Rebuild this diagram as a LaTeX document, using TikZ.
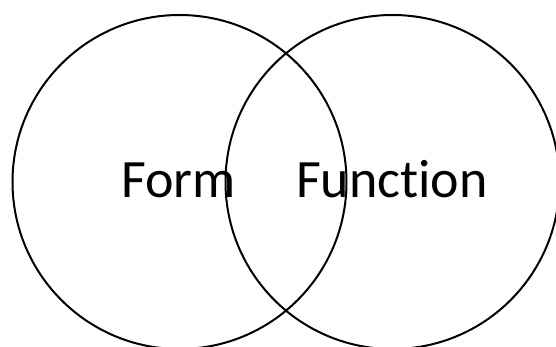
\documentclass[tikz,border=0pt]{standalone}
\usepackage{fontspec}
\setmainfont[RawFeature={-liga;-clig;-dlig}]{Carlito}
\begin{document}
\begin{tikzpicture}[x=1pt,y=-1pt,
  venn/.style={draw=black,line width=2pt,circle,minimum size=334pt,inner sep=0pt},
  lbl/.style={font=\fontsize{54}{60}\selectfont,inner sep=0pt,anchor=base west}]
\useasboundingbox (0,0) rectangle (556,347);
\node[venn] (form) at (179.5,182) {};
\node[venn] (func) at (392.5,182) {};
\node[lbl] (formtxt) at (121,198) {Form};
\node[lbl] (functxt) at (296,198) {Func\kern0pt t\kern0pt ion};
\end{tikzpicture}
\end{document}
